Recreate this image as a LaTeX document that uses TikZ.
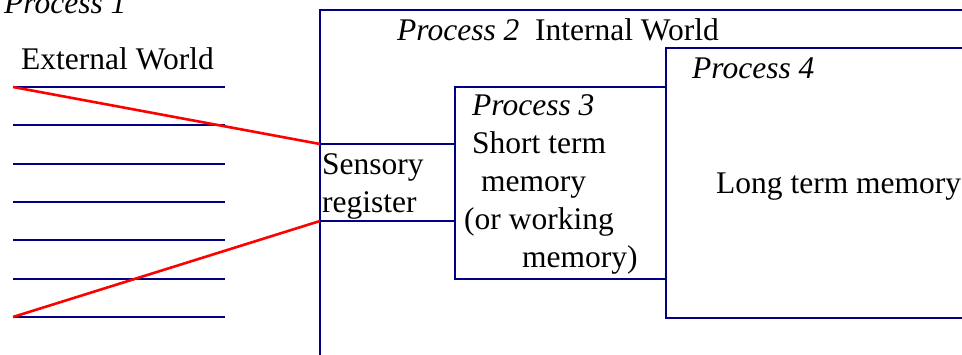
\documentclass[tikz,border=0pt]{standalone}
\usepackage{fontspec}
\setmainfont{Liberation Serif}
\definecolor{boxblue}{RGB}{0,0,128}
\definecolor{linkred}{RGB}{255,0,0}
\begin{document}
\begin{tikzpicture}[x=1pt, y=-1pt,
    frame/.style={draw=boxblue, line width=1.8pt},
    store/.style={frame, rectangle, anchor=north west, inner sep=0pt, outer sep=0pt},
    label/.style={anchor=base west, inner sep=0pt, font=\fontsize{31.5}{38}\selectfont},
    stack/.style={label, align=left},
    stroke/.style={draw=linkred, line width=2.6pt}
]
\useasboundingbox (0,0) rectangle (962,354);

% External world
\node[label] (proc1) at (4,13) {\textit{Process 1}};
\node[label] (ext) at (21,69) {External World};
\foreach \i in {1,...,7} {
    \coordinate (in\i) at (13,{87+38.33*(\i-1)});
    \draw[frame] (in\i) -- ++(212,0);
}

% Internal world
\coordinate (iwbottom) at (320,370);
\coordinate (iwcorner) at (320,10);
\coordinate (iwright) at (980,10);
\draw[frame] (iwbottom) -- (iwcorner) -- (iwright);
\node[label] (proc2) at (397,40) {\textit{Process 2}\ \ Internal World};

% Memory stores
\node[store, minimum width=320pt, minimum height=270pt] (ltm) at (666,48) {};
\node[store, minimum width=211pt, minimum height=192pt] (stm) at (455,87) {};
\node[store, minimum width=135pt, minimum height=77pt] (sens) at (320,144) {};

\node[label] (proc4) at (692,78) {\textit{Process 4}};
\node[label] (ltmtext) at (716,193) {Long term memory};
% multi-line nodes sit on their last baseline
\node[stack] (stmtext) at (464,267) {\hspace*{8pt}\textit{Process 3}\\ \hspace*{8pt}Short term\\ \hspace*{17pt}memory\\ (or working\\ \hspace*{58pt}memory)};
\node[stack] (senstext) at (322,212) {Sensory\\ register};

% Input to the sensory register
\draw[stroke] (in1) -- (sens.north west);
\draw[stroke] (in7) -- (sens.south west);

\end{tikzpicture}
\end{document}
